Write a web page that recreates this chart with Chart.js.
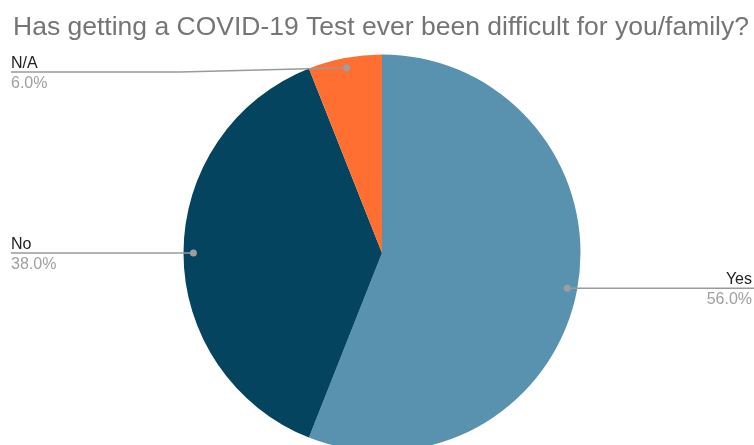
<!DOCTYPE html>
<html>
<head>
<meta charset="utf-8">
<script src="https://cdn.jsdelivr.net/npm/chart.js@4"></script>
<style>
    html, body { margin: 0; padding: 0; background: #fff; overflow: hidden; }
    #wrap { position: relative; width: 754px; height: 460px; }
</style>
</head>
<body>
<div id="wrap"><canvas id="pie-chart"></canvas></div>
<script>
const titleText = 'Has getting a COVID-19 Test ever been difficult for you/family?';
const categories = ['Yes', 'No', 'N/A'];
const shares = [56, 38, 6];
const sliceColors = ['#5892AF', '#05445E', '#FF6F31'];

// Title + outside labels with leader lines (Sheets style)
const sheetLabels = {
    id: 'sheetLabels',
    afterDraw(chart) {
        const ctx = chart.ctx;
        const w = chart.width;
        ctx.save();

        ctx.fillStyle = '#757575';
        ctx.font = '26.5px "Liberation Sans", Arial, sans-serif';
        ctx.textBaseline = 'alphabetic';
        ctx.textAlign = 'left';
        ctx.fillText(titleText, 13, 35);

        const meta = chart.getDatasetMeta(0);
        meta.data.forEach((arc, i) => {
            const mid = (arc.startAngle + arc.endAngle) / 2;
            const r = arc.outerRadius * 0.95;
            const dx = arc.x + Math.cos(mid) * r;
            const dy = arc.y + Math.sin(mid) * r;
            const right = Math.cos(mid) > 0;
            const lineY = Math.max(dy, 72);
            const endX = right ? w : 11;

            ctx.strokeStyle = '#9a9a9a';
            ctx.lineWidth = 1.5;
            ctx.beginPath();
            ctx.moveTo(dx, dy);
            if (lineY !== dy) {
                ctx.lineTo(180, lineY);
            } else {
                ctx.lineTo(dx, lineY);
            }
            ctx.lineTo(endX, lineY);
            ctx.stroke();

            ctx.fillStyle = '#9e9e9e';
            ctx.beginPath();
            ctx.arc(dx, dy, 3.5, 0, Math.PI * 2);
            ctx.fill();

            ctx.font = '16px "Liberation Sans", Arial, sans-serif';
            ctx.textAlign = right ? 'right' : 'left';
            const tx = right ? w - 2 : 11;
            ctx.fillStyle = '#222';
            ctx.fillText(categories[i], tx, lineY - 4);
            ctx.fillStyle = '#a0a0a0';
            ctx.fillText(shares[i].toFixed(1) + '%', tx, lineY + 16);
        });
        ctx.restore();
    }
};

const ctx = document.getElementById('pie-chart').getContext('2d');
new Chart(ctx, {
    type: 'pie',
    data: {
        labels: categories,
        datasets: [{
            data: shares,
            backgroundColor: sliceColors,
            borderWidth: 0
        }]
    },
    options: {
        responsive: true,
        maintainAspectRatio: false,
        animation: false,
        layout: { padding: { top: 54.5, bottom: 8.5, left: 10, right: 0 } },
        plugins: {
            legend: { display: false },
            tooltip: { enabled: false }
        }
    },
    plugins: [sheetLabels]
});
</script>
</body>
</html>
